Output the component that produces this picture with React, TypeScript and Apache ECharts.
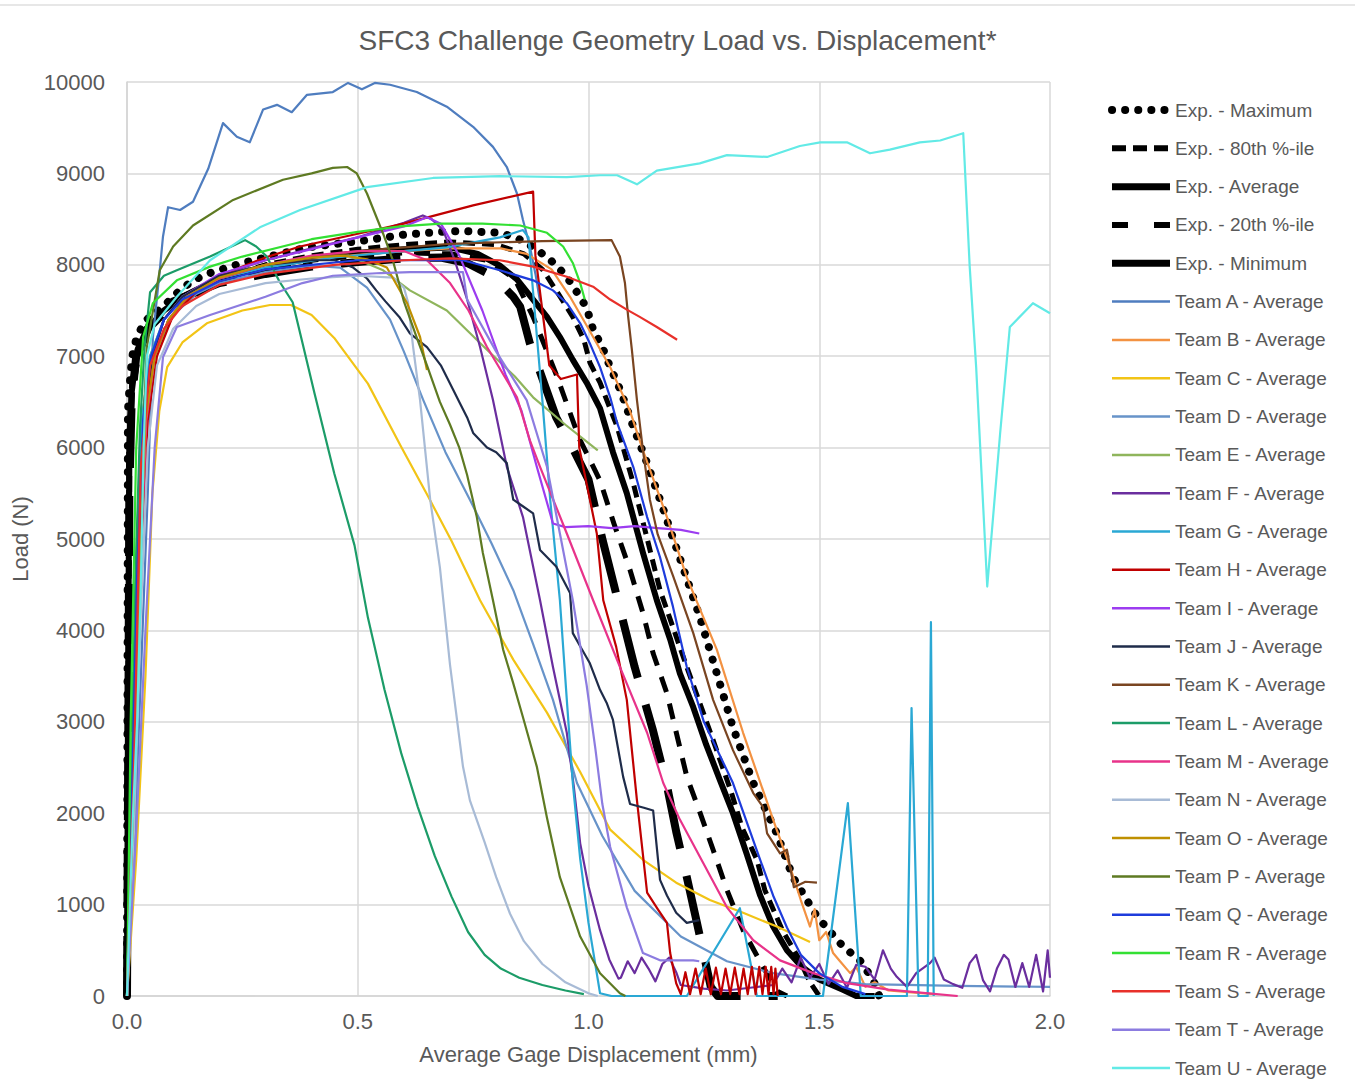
import React, { useEffect, useRef } from 'react';
import * as echarts from 'echarts';

// ---------- data: [displacement (mm), load (N)] ----------
const expMaximum = [[0,0],[0.001,3000],[0.002,6400],[0.006,6700],[0.011,6990],[0.021,7210],[0.04,7390],[0.078,7540],[0.108,7690],[0.143,7830],[0.18,7910],[0.25,8020],[0.3,8080],[0.39,8190],[0.52,8270],[0.6,8330],[0.68,8360],[0.725,8370],[0.765,8360],[0.81,8350],[0.85,8280],[0.885,8180],[0.92,8040],[0.95,7890],[0.975,7700],[0.996,7530],[1.01,7290],[1.03,7100],[1.047,6880],[1.064,6690],[1.079,6490],[1.094,6270],[1.127,5830],[1.155,5430],[1.198,4790],[1.241,4150],[1.278,3530],[1.313,2940],[1.357,2330],[1.408,1780],[1.443,1300],[1.495,870],[1.552,540],[1.588,390],[1.617,175],[1.63,0]];
const exp80th = [[0,0],[0.002,3000],[0.004,6000],[0.01,6700],[0.02,7050],[0.04,7300],[0.08,7500],[0.12,7650],[0.2,7850],[0.3,8000],[0.4,8100],[0.5,8170],[0.6,8220],[0.7,8250],[0.8,8220],[0.86,8120],[0.9,7950],[0.93,7720],[0.966,7430],[0.99,7180],[1.003,6930],[1.025,6710],[1.062,6230],[1.097,5610],[1.155,4440],[1.213,3600],[1.27,2800],[1.31,2220],[1.333,1840],[1.365,1490],[1.382,1160],[1.42,720],[1.458,390],[1.48,150],[1.5,0]];
const expAverage = [[0,0],[0.002,3000],[0.005,5800],[0.01,6600],[0.02,7000],[0.045,7300],[0.08,7500],[0.12,7650],[0.2,7850],[0.3,7980],[0.4,8070],[0.5,8130],[0.6,8170],[0.7,8190],[0.76,8120],[0.808,7990],[0.845,7840],[0.88,7620],[0.91,7430],[0.938,7210],[0.966,6960],[0.996,6710],[1.025,6430],[1.053,5950],[1.083,5500],[1.118,4850],[1.148,4330],[1.177,3900],[1.198,3530],[1.227,3160],[1.255,2750],[1.285,2360],[1.313,2000],[1.343,1550],[1.372,1100],[1.4,760],[1.43,500],[1.46,330],[1.5,180],[1.55,70],[1.58,0],[1.62,0]];
const exp20th = [[0,0],[0.003,3000],[0.006,5800],[0.012,6600],[0.025,7000],[0.05,7300],[0.1,7550],[0.2,7800],[0.3,7950],[0.4,8050],[0.5,8100],[0.6,8130],[0.7,8120],[0.78,8050],[0.84,7850],[0.88,7430],[0.93,6800],[0.98,6100],[1.025,5640],[1.055,5170],[1.09,4660],[1.118,4190],[1.14,3750],[1.17,3310],[1.213,2400],[1.24,2030],[1.27,1600],[1.3,1160],[1.335,720],[1.378,320],[1.41,50],[1.43,0]];
const expMinimum = [[0,0],[0.003,3000],[0.005,5500],[0.01,6500],[0.02,7000],[0.05,7350],[0.1,7600],[0.2,7800],[0.3,7900],[0.4,7980],[0.5,8030],[0.6,8070],[0.68,8080],[0.737,8020],[0.78,7910],[0.808,7800],[0.837,7650],[0.852,7540],[0.873,7140],[0.93,6330],[0.96,6050],[1.0,5650],[1.03,5000],[1.055,4500],[1.075,4100],[1.1,3600],[1.14,2900],[1.17,2300],[1.19,1800],[1.213,1300],[1.235,800],[1.25,450],[1.265,100],[1.28,0],[1.41,0]];

const teamA = [[0,0],[0.015,1500],[0.03,3500],[0.045,5500],[0.056,7200],[0.071,7940],[0.078,8310],[0.089,8630],[0.115,8600],[0.143,8690],[0.176,9050],[0.208,9550],[0.238,9400],[0.266,9340],[0.295,9700],[0.325,9750],[0.357,9670],[0.39,9860],[0.446,9890],[0.479,9990],[0.509,9920],[0.537,9990],[0.57,9970],[0.628,9890],[0.693,9730],[0.75,9510],[0.793,9290],[0.823,9070],[0.845,8780],[0.858,8490],[0.873,8200],[0.885,7900],[0.895,7600]];
const teamB = [[0,0],[0.012,2000],[0.025,4500],[0.04,6300],[0.06,7000],[0.09,7400],[0.15,7720],[0.2,7850],[0.3,7980],[0.4,8060],[0.5,8110],[0.6,8150],[0.7,8180],[0.81,8180],[0.866,8120],[0.92,7950],[0.96,7650],[1.0,7300],[1.047,6880],[1.09,6400],[1.118,5970],[1.17,5240],[1.213,4580],[1.278,3790],[1.335,2880],[1.4,1930],[1.437,1410],[1.46,1050],[1.48,760],[1.49,950],[1.5,610],[1.515,700],[1.53,470],[1.545,380],[1.567,250],[1.58,320],[1.6,100],[1.62,150],[1.65,60],[1.7,40],[1.75,20]];
const teamC = [[0,0],[0.02,1500],[0.04,3500],[0.055,5500],[0.07,6400],[0.087,6880],[0.12,7150],[0.173,7360],[0.25,7500],[0.31,7560],[0.355,7560],[0.4,7450],[0.449,7200],[0.522,6700],[0.594,6010],[0.652,5470],[0.703,4980],[0.765,4330],[0.837,3680],[0.91,3100],[0.982,2450],[1.047,1820],[1.118,1490],[1.19,1240],[1.263,1050],[1.335,910],[1.408,760],[1.48,590]];
const teamD = [[0,0],[0.012,2000],[0.025,4500],[0.04,6300],[0.06,7000],[0.1,7450],[0.15,7680],[0.2,7800],[0.3,7920],[0.4,7990],[0.462,7970],[0.52,7750],[0.57,7400],[0.6,7050],[0.642,6520],[0.69,5950],[0.743,5430],[0.79,4950],[0.837,4440],[0.88,3850],[0.923,3240],[0.975,2330],[1.03,1750],[1.1,1150],[1.2,650],[1.3,380],[1.4,250],[1.5,180],[1.6,130],[1.8,110],[2.0,100]];
const teamE = [[0,0],[0.01,2200],[0.02,4800],[0.032,6300],[0.05,7000],[0.08,7400],[0.12,7650],[0.2,7880],[0.3,8000],[0.4,8080],[0.48,8100],[0.555,7940],[0.613,7720],[0.693,7500],[0.78,7070],[0.84,6780],[0.88,6550],[0.95,6250],[1.02,5970]];
const teamF = [[0,0],[0.012,2000],[0.025,4600],[0.038,6300],[0.055,7000],[0.08,7400],[0.12,7650],[0.2,7880],[0.3,8050],[0.4,8180],[0.5,8300],[0.6,8460],[0.641,8540],[0.66,8500],[0.685,8380],[0.71,8050],[0.737,7620],[0.765,7100],[0.793,6520],[0.823,5790],[0.858,5240],[0.895,4330],[0.923,3600],[0.953,2880],[0.968,2300],[0.982,1670],[1.0,1200],[1.025,720],[1.045,400],[1.065,190],[1.07,200],[1.085,380],[1.1,250],[1.115,420],[1.13,300],[1.145,160],[1.16,350],[1.175,420],[1.19,260],[1.2,120],[1.25,80],[1.3,60],[1.35,90],[1.4,120],[1.42,300],[1.44,150],[1.46,420],[1.48,200],[1.5,350],[1.52,130],[1.54,280],[1.56,90],[1.58,340],[1.6,320],[1.62,180],[1.638,500],[1.655,300],[1.668,210],[1.69,100],[1.71,250],[1.74,360],[1.75,420],[1.77,180],[1.79,130],[1.81,90],[1.826,360],[1.84,450],[1.855,170],[1.87,50],[1.885,300],[1.9,450],[1.91,400],[1.925,100],[1.94,360],[1.955,100],[1.97,450],[1.985,50],[1.995,500],[2.0,200]];
const teamG = [[0,0],[0.01,2000],[0.02,4600],[0.032,6300],[0.05,7000],[0.08,7400],[0.12,7650],[0.2,7850],[0.3,7970],[0.45,8080],[0.6,8150],[0.693,8190],[0.808,8300],[0.858,8380],[0.87,8300],[0.88,7700],[0.9,6520],[0.917,5430],[0.938,4330],[0.953,3240],[0.966,2330],[0.982,1500],[1.0,800],[1.025,30],[1.05,0],[1.213,0],[1.328,960],[1.365,0],[1.508,0],[1.562,2110],[1.59,0],[1.69,0],[1.7,3150],[1.715,0],[1.735,0],[1.742,4090],[1.748,0]];
const teamH = [[0,0],[0.015,2000],[0.03,4800],[0.045,6300],[0.065,7000],[0.1,7450],[0.15,7700],[0.2,7880],[0.3,8080],[0.375,8200],[0.5,8340],[0.6,8450],[0.75,8650],[0.88,8800],[0.885,8100],[0.9,7500],[0.915,6900],[0.94,6750],[0.975,6800],[0.98,6000],[1.018,5060],[1.032,4330],[1.06,3820],[1.083,3240],[1.105,2140],[1.127,1130],[1.15,950],[1.17,800],[1.177,470],[1.19,140],[1.2,20],[1.21,260],[1.22,20],[1.232,300],[1.243,20],[1.254,300],[1.265,20],[1.276,310],[1.287,20],[1.297,300],[1.307,20],[1.317,310],[1.327,20],[1.336,300],[1.345,20],[1.354,320],[1.362,20],[1.37,320],[1.377,20],[1.384,320],[1.39,20],[1.396,320],[1.401,20],[1.405,300],[1.41,0]];
const teamI = [[0,0],[0.012,2200],[0.025,4800],[0.038,6300],[0.055,7000],[0.08,7400],[0.12,7650],[0.2,7900],[0.3,8050],[0.4,8170],[0.5,8300],[0.6,8420],[0.65,8520],[0.68,8450],[0.72,8100],[0.77,7500],[0.82,6800],[0.855,6400],[0.888,5790],[0.923,5170],[0.95,5130],[1.0,5140],[1.05,5120],[1.1,5140],[1.15,5120],[1.2,5100],[1.24,5060]];
const teamJ = [[0,0],[0.012,2000],[0.025,4600],[0.038,6300],[0.055,7000],[0.08,7400],[0.12,7650],[0.2,7880],[0.3,8000],[0.4,8050],[0.45,8050],[0.49,7970],[0.52,7850],[0.54,7720],[0.56,7600],[0.59,7430],[0.613,7250],[0.63,7180],[0.65,7100],[0.68,6900],[0.707,6630],[0.72,6500],[0.737,6330],[0.75,6160],[0.78,6000],[0.8,5950],[0.823,5830],[0.837,5430],[0.86,5350],[0.88,5280],[0.895,4880],[0.93,4700],[0.96,4410],[0.966,3970],[0.985,3800],[1.003,3640],[1.025,3350],[1.04,3200],[1.053,3020],[1.075,2400],[1.09,2100],[1.12,2060],[1.14,2030],[1.155,1270],[1.17,1100],[1.19,910],[1.213,800],[1.24,830]];
const teamK = [[0,0],[0.013,2000],[0.027,4600],[0.04,6300],[0.06,7000],[0.09,7400],[0.13,7650],[0.2,7850],[0.3,8000],[0.5,8150],[0.7,8230],[0.9,8260],[1.05,8270],[1.068,8090],[1.079,7800],[1.086,7430],[1.094,7070],[1.105,6520],[1.118,5970],[1.133,5430],[1.15,5050],[1.183,4600],[1.227,3970],[1.27,3240],[1.313,2690],[1.357,2220],[1.378,2070],[1.387,1780],[1.415,1560],[1.43,1600],[1.445,1190],[1.47,1250],[1.495,1240]];
const teamL = [[0,0],[0.008,2000],[0.018,4500],[0.028,6200],[0.038,7100],[0.05,7700],[0.08,7880],[0.108,7940],[0.18,8090],[0.256,8270],[0.28,8200],[0.303,8090],[0.33,7820],[0.359,7590],[0.38,7150],[0.406,6600],[0.449,5720],[0.493,4930],[0.522,4140],[0.558,3350],[0.594,2660],[0.63,2070],[0.667,1530],[0.703,1090],[0.739,700],[0.775,450],[0.81,300],[0.85,200],[0.9,120],[0.95,60],[0.99,20]];
const teamM = [[0,0],[0.014,2000],[0.028,4600],[0.042,6300],[0.06,7000],[0.09,7400],[0.13,7650],[0.2,7850],[0.3,8000],[0.4,8100],[0.5,8150],[0.6,8150],[0.65,8050],[0.7,7800],[0.74,7500],[0.78,7100],[0.845,6550],[0.873,6080],[0.895,5790],[0.953,5060],[1.01,4330],[1.068,3600],[1.127,2880],[1.162,2330],[1.198,1930],[1.248,1460],[1.3,970],[1.357,610],[1.415,390],[1.487,250],[1.56,140],[1.65,70],[1.8,0]];
const teamN = [[0,0],[0.015,1800],[0.03,4200],[0.045,6000],[0.065,6900],[0.1,7300],[0.15,7550],[0.2,7680],[0.3,7800],[0.4,7850],[0.5,7880],[0.577,7860],[0.6,7750],[0.609,7590],[0.62,7100],[0.635,6520],[0.657,5430],[0.678,4690],[0.7,3620],[0.728,2510],[0.743,2140],[0.775,1680],[0.8,1300],[0.83,900],[0.86,600],[0.9,350],[0.95,150],[1.0,30],[1.02,0]];
const teamO = [[0,0],[0.013,2000],[0.027,4600],[0.04,6300],[0.06,7000],[0.09,7400],[0.13,7650],[0.2,7860],[0.3,8000],[0.4,8080],[0.47,8100],[0.52,8060],[0.563,7970],[0.607,7580],[0.635,7210],[0.65,6850]];
const teamP = [[0,0],[0.01,2000],[0.025,5000],[0.043,7100],[0.071,7940],[0.1,8200],[0.143,8430],[0.23,8710],[0.338,8930],[0.4,9000],[0.446,9060],[0.477,9070],[0.498,9000],[0.52,8780],[0.555,8340],[0.576,8050],[0.6,7600],[0.628,7200],[0.65,6900],[0.678,6500],[0.7,6250],[0.72,6000],[0.737,5700],[0.758,5240],[0.771,4850],[0.793,4330],[0.815,3790],[0.837,3420],[0.858,3050],[0.888,2510],[0.91,1950],[0.938,1300],[0.982,650],[1.025,250],[1.068,30],[1.08,0]];
const teamQ = [[0,0],[0.01,2000],[0.022,4600],[0.035,6300],[0.052,7000],[0.08,7400],[0.12,7620],[0.2,7820],[0.3,7950],[0.5,8050],[0.728,8050],[0.808,7940],[0.88,7830],[0.923,7720],[0.953,7580],[0.982,7360],[1.003,7140],[1.025,6880],[1.047,6550],[1.062,6270],[1.097,5790],[1.127,5240],[1.155,4800],[1.183,4260],[1.213,3600],[1.25,3000],[1.313,2330],[1.372,1490],[1.4,1100],[1.43,750],[1.46,450],[1.5,250],[1.55,100],[1.6,20]];
const teamR = [[0,0],[0.008,3000],[0.02,6000],[0.035,7210],[0.056,7580],[0.108,7830],[0.18,7980],[0.25,8090],[0.4,8280],[0.5,8360],[0.592,8420],[0.68,8450],[0.77,8450],[0.852,8430],[0.91,8350],[0.945,8200],[0.966,8020],[0.982,7800],[0.992,7620]];
const teamS = [[0,0],[0.015,2500],[0.03,5800],[0.05,6900],[0.08,7300],[0.12,7550],[0.2,7780],[0.3,7900],[0.45,8000],[0.6,8050],[0.7,8070],[0.808,8050],[0.88,7980],[0.953,7870],[1.01,7760],[1.047,7620],[1.083,7510],[1.111,7430],[1.148,7320],[1.192,7180]];
const teamT = [[0,0],[0.02,1800],[0.04,4000],[0.06,6000],[0.078,6990],[0.108,7320],[0.18,7450],[0.3,7650],[0.38,7800],[0.446,7880],[0.55,7910],[0.613,7920],[0.728,7920],[0.737,7620],[0.8,7050],[0.866,6520],[0.91,5790],[0.938,5060],[0.966,4330],[0.996,3400],[1.015,2700],[1.03,2100],[1.047,1630],[1.083,970],[1.118,470],[1.155,390],[1.227,390],[1.24,380]];
const teamU = [[0,0],[0.005,800],[0.013,2000],[0.022,3000],[0.03,4500],[0.036,6000],[0.043,7000],[0.06,7350],[0.108,7650],[0.18,8050],[0.288,8410],[0.375,8600],[0.52,8850],[0.663,8950],[0.808,8970],[0.953,8960],[1.025,8980],[1.062,8980],[1.105,8880],[1.148,9030],[1.241,9110],[1.3,9200],[1.387,9180],[1.458,9300],[1.502,9340],[1.56,9340],[1.61,9220],[1.653,9260],[1.718,9340],[1.762,9360],[1.812,9440],[1.826,7980],[1.84,6880],[1.864,4480],[1.892,6160],[1.913,7320],[1.963,7580],[2.0,7470]];

const seriesNames = ['Exp. - Maximum','Exp. - 80th %-ile','Exp. - Average','Exp. - 20th %-ile','Exp. - Minimum',
  'Team A - Average','Team B - Average','Team C - Average','Team D - Average','Team E - Average','Team F - Average','Team G - Average',
  'Team H - Average','Team I - Average','Team J - Average','Team K - Average','Team L - Average','Team M - Average','Team N - Average',
  'Team O - Average','Team P - Average','Team Q - Average','Team R - Average','Team S - Average','Team T - Average','Team U - Average'];
const seriesData = [expMaximum, exp80th, expAverage, exp20th, expMinimum,
  teamA, teamB, teamC, teamD, teamE, teamF, teamG, teamH, teamI, teamJ, teamK, teamL, teamM, teamN, teamO, teamP, teamQ, teamR, teamS, teamT, teamU];

const xTicks = [0, 0.5, 1.0, 1.5, 2.0];
const yTicks = [0, 1000, 2000, 3000, 4000, 5000, 6000, 7000, 8000, 9000, 10000];

// ---------- styles ----------
const teamColors = ['#4F7DBF','#F39242','#F2C416','#6793C9','#8FB55C','#6A2E9E','#2AA8D4','#C00000','#9C3CF0','#1F2C4A','#7A4521','#1C9C68','#E8338A','#A8BBD6','#BF9000','#5E7A22','#1E3CDC','#33E033','#E8302A','#8C7CE0','#62EAE6'];
const expStyles = [
  { width: 8, type: [0.1, 13], cap: 'round', legend: { width: 8, type: [0.1, 13], cap: 'round' } },
  { width: 5, type: [12, 7], cap: 'butt', legend: { width: 6, type: [14, 7], cap: 'butt' } },
  { width: 6, type: 'solid', cap: 'butt', legend: { width: 7, type: 'solid', cap: 'butt' } },
  { width: 5, type: [16, 12], cap: 'butt', legend: { width: 6, type: [16, 26], cap: 'butt' } },
  { width: 8, type: [60, 28], cap: 'butt', legend: { width: 7, type: 'solid', cap: 'butt' } },
];

const FONT = '"Liberation Sans", Arial, sans-serif';
const TXT = '#595959';

export default function App() {
  const ref = useRef<HTMLDivElement>(null);
  useEffect(() => {
    const chart = echarts.init(ref.current as HTMLDivElement, null, { renderer: 'svg' });
    const series = seriesNames.map((name, i) => {
      const isExp = i < 5;
      const st = isExp ? expStyles[i] : null;
      const color = isExp ? '#000000' : teamColors[i - 5];
      return {
        name,
        type: 'line',
        data: seriesData[i],
        symbol: 'none',
        silent: true,
        color,
        lineStyle: {
          color,
          width: isExp ? st!.width : 2.2,
          type: isExp ? st!.type : 'solid',
          cap: isExp ? st!.cap : 'butt',
          join: 'round',
        },
        emphasis: { disabled: true },
        z: 2,
      };
    });
    const legendData = seriesNames.map((name, i) => {
      const isExp = i < 5;
      const st = isExp ? expStyles[i].legend : { width: 2.5, type: 'solid', cap: 'butt' };
      return {
        name,
        itemStyle: { opacity: 0 },
        lineStyle: { width: st.width, type: st.type, cap: st.cap },
      };
    });
    const option = {
      animation: false,
      backgroundColor: '#ffffff',
      textStyle: { fontFamily: FONT },
      title: {
        text: 'SFC3 Challenge Geometry Load vs. Displacement*',
        left: 'center',
        top: 21,
        textStyle: { fontSize: 28, fontWeight: 'normal', color: TXT, fontFamily: FONT },
      },
      graphic: [
        { type: 'line', shape: { x1: 0, y1: 5, x2: 1355, y2: 5 }, style: { stroke: '#cfcfcf', lineWidth: 1 } },
      ],
      grid: { left: 127, right: 305, top: 82, bottom: 93, containLabel: false },
      legend: {
        orient: 'vertical',
        left: 1108,
        top: 100,
        padding: 0,
        itemWidth: 58,
        itemHeight: 20,
        itemGap: 18.32,
        selectedMode: false,
        itemStyle: { opacity: 0 },
        textStyle: { fontSize: 19, color: TXT, fontFamily: FONT, lineHeight: 20 },
        data: legendData,
      },
      xAxis: {
        type: 'value',
        min: xTicks[0],
        max: xTicks[xTicks.length - 1],
        interval: 0.5,
        name: 'Average Gage Displacement (mm)',
        nameLocation: 'middle',
        nameGap: 47,
        nameTextStyle: { fontSize: 22, color: TXT, fontFamily: FONT },
        axisLine: { show: true, lineStyle: { color: '#d4d4d4', width: 1.5 } },
        axisTick: { show: false },
        axisLabel: { fontSize: 22, color: TXT, margin: 14, fontFamily: FONT, formatter: (v: number) => v.toFixed(1) },
        splitLine: { show: true, lineStyle: { color: '#d9d9d9', width: 1.5 } },
      },
      yAxis: {
        type: 'value',
        min: yTicks[0],
        max: yTicks[yTicks.length - 1],
        interval: 1000,
        name: 'Load (N)',
        nameLocation: 'middle',
        nameGap: 96,
        nameRotate: 90,
        nameTextStyle: { fontSize: 22, color: TXT, fontFamily: FONT },
        axisLine: { show: true, lineStyle: { color: '#d4d4d4', width: 1.5 } },
        axisTick: { show: false },
        axisLabel: { fontSize: 22, color: TXT, margin: 22, fontFamily: FONT, formatter: (v: number) => String(v) },
        splitLine: { show: true, lineStyle: { color: '#d9d9d9', width: 1.5 } },
      },
      series,
    };
    chart.setOption(option as any);
    return () => chart.dispose();
  }, []);
  return (
    <div
      ref={ref}
      style={{ position: 'absolute', left: 0, top: 0, width: 1355, height: 1089, background: '#ffffff' }}
    />
  );
}
